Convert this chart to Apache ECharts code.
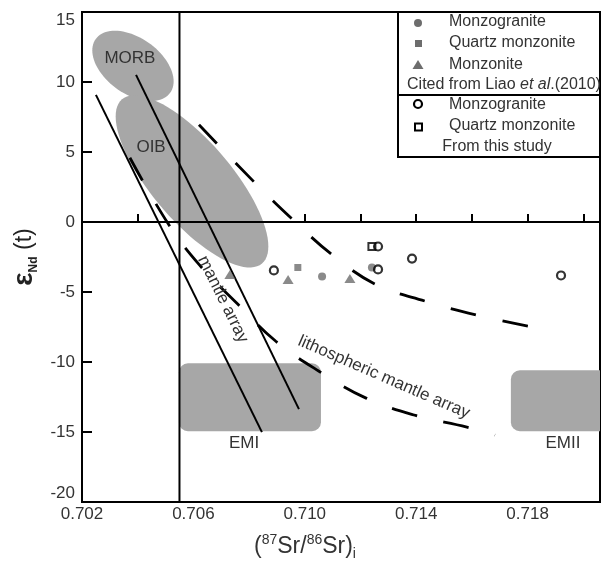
<!DOCTYPE html>
<html>
<head>
<meta charset="utf-8">
<script src="https://cdn.jsdelivr.net/npm/echarts@6/dist/echarts.min.js"></script>
<style>
  html, body { margin: 0; padding: 0; background: #fff; }
  #chart { width: 603px; height: 566px; }
</style>
</head>
<body>
<div id="chart"></div>
<script>
// samples, Liao et al. (2010)
const liaoMonzogranite = [[0.71062, -3.89], [0.71241, -3.25]];
const liaoQuartzMonzonite = [[0.70975, -3.25]];
const liaoMonzonite = [[0.70731, -3.75], [0.70940, -4.10], [0.71162, -4.03]];
// samples, this study
const studyMonzogranite = [[0.70889, -3.46], [0.71263, -3.39], [0.71263, -1.75], [0.71385, -2.61], [0.71920, -3.82]];
const studyQuartzMonzonite = [[0.71241, -1.75]];

// reference fields
const mantleArrayLeft = [[0.70250, 9.08], [0.70846, -15.01]];
const mantleArrayRight = [[0.70394, 10.51], [0.70979, -13.37]];
const upperDashed = [[0.70620, 6.95], [0.70817, 2.88], [0.70957, 0.17], [0.71097, -2.32],
  [0.71255, -4.46], [0.71435, -5.67], [0.71622, -6.67], [0.71805, -7.45]];
const lithosphericArray = [[0.70372, 4.59], [0.70509, -0.11], [0.70620, -3.03], [0.70760, -5.88],
  [0.70896, -8.52], [0.71051, -10.66], [0.71220, -12.58], [0.71395, -13.80], [0.71582, -14.65], [0.71683, -15.22]];
// ellipses: centre x, centre y, half major axis (dx, dy), half minor axis (dx, dy)
const morbField = [0.70383, 11.15, 0.001335, -1.924, -0.000592, -1.611];
const oibField = [0.70595, 2.90, 0.002513, -5.866, -0.001095, -1.846];
// boxes: x0, y0, x1, y1
const emiBox = [0.70548, -10.09, 0.71058, -14.94];
const emiiBox = [0.71740, -10.59, 0.72300, -14.94];

const fieldNames = ['MORB', 'OIB', 'mantle array', 'lithospheric mantle array', 'EMI', 'EMII'];
const fieldNamePos = [[0.70372, 11.72], [0.70448, 5.31], [0.70706, -5.53], [0.71284, -11.09], [0.70782, -15.79], [0.71927, -15.79]];
const fieldNameAngle = [0, 0, -63.8, -23.5, 0, 0];

// bulk earth / CHUR reference lines
const bulkEarthLine = [[0.7055, -20], [0.7055, 15]];
const churLine = [[0.702, 0], [0.7206, 0]];
const xLabels = [0.702, 0.706, 0.710, 0.714, 0.718];

const FONT = '"Liberation Sans", Arial, sans-serif';
const GREY = '#a7a7a7';
const DARK = '#6d6d6d';

const chart = echarts.init(document.getElementById('chart'));

const ellipseItem = (params, api) => {
  const pts = [];
  for (let i = 0; i < 90; i++) {
    const t = i / 90 * Math.PI * 2;
    pts.push(api.coord([
      api.value(0) + api.value(2) * Math.cos(t) + api.value(4) * Math.sin(t),
      api.value(1) + api.value(3) * Math.cos(t) + api.value(5) * Math.sin(t)
    ]));
  }
  return { type: 'polygon', shape: { points: pts }, style: { fill: GREY } };
};

const boxItem = (params, api) => {
  const a = api.coord([api.value(0), api.value(1)]);
  const b = api.coord([api.value(2), api.value(3)]);
  return {
    type: 'rect',
    shape: { x: a[0], y: a[1], width: b[0] - a[0], height: b[1] - a[1], r: 9 },
    style: { fill: GREY }
  };
};

const nameItem = (params, api) => {
  const p = api.coord([api.value(0), api.value(1)]);
  return {
    type: 'text', x: p[0], y: p[1],
    rotation: fieldNameAngle[params.dataIndex] * Math.PI / 180,
    style: {
      text: fieldNames[params.dataIndex], fill: '#333', fontSize: 17, fontFamily: FONT,
      align: 'center', verticalAlign: 'middle'
    }
  };
};

const solid = { color: '#000', width: 2 };
const dashed = { color: '#000', width: 2.8, type: [26, 27] };

chart.setOption({
  animation: false,
  grid: { left: 82, right: 3, top: 12, bottom: 63, show: true, borderColor: '#000', borderWidth: 2 },
  xAxis: {
    type: 'value', min: 0.702, max: 0.7206, interval: 0.002,
    axisLine: { lineStyle: { color: '#000', width: 2 } },
    axisTick: { inside: true, length: 8, lineStyle: { color: '#000', width: 2 } },
    axisLabel: {
      color: '#333', fontSize: 17, fontFamily: FONT, margin: 4,
      formatter: v => xLabels.some(l => Math.abs(l - v) < 1e-6) ? v.toFixed(3) : ''
    },
    splitLine: { show: false },
    name: '({p|87}Sr/{p|86}Sr){b|i}',
    nameLocation: 'middle', nameGap: 31,
    nameTextStyle: {
      color: '#333', fontSize: 23, fontFamily: FONT, lineHeight: 28, padding: [0, 72, 0, 0],
      rich: {
        p: { fontSize: 14, fontFamily: FONT, color: '#333', verticalAlign: 'top', lineHeight: 14 },
        b: { fontSize: 14, fontFamily: FONT, color: '#333', verticalAlign: 'bottom', lineHeight: 12 }
      }
    }
  },
  yAxis: {
    type: 'value', min: -20, max: 15, interval: 5,
    axisLine: { lineStyle: { color: '#000', width: 2 } },
    axisTick: { inside: true, length: 10, lineStyle: { color: '#000', width: 2 } },
    axisLabel: {
      color: '#333', fontSize: 17, fontFamily: FONT, margin: 7,
      verticalAlignMinLabel: 'bottom', verticalAlignMaxLabel: 'top'
    },
    splitLine: { show: false },
    name: '{e|ε}{s|Nd}{t| (t)}',
    nameLocation: 'middle', nameGap: 40,
    nameTextStyle: {
      rich: {
        e: { fontSize: 28, fontWeight: 'bold', fontFamily: FONT, color: '#222', lineHeight: 30 },
        s: { fontSize: 12, fontWeight: 'bold', fontFamily: FONT, color: '#222', verticalAlign: 'bottom', lineHeight: 16 },
        t: { fontSize: 23, fontFamily: FONT, color: '#222', lineHeight: 30 }
      }
    }
  },
  series: [
    { type: 'custom', z: 1, clip: true, renderItem: ellipseItem, data: [morbField, oibField], silent: true },
    { type: 'custom', z: 1, clip: true, renderItem: boxItem, data: [emiBox, emiiBox],
      encode: { x: [0, 2], y: [1, 3] }, silent: true },
    { type: 'line', z: 2, data: bulkEarthLine, symbol: 'none', lineStyle: solid, silent: true },
    { type: 'line', z: 2, data: churLine, symbol: 'none', lineStyle: solid, silent: true },
    { type: 'line', z: 2, data: mantleArrayLeft, symbol: 'none', lineStyle: solid },
    { type: 'line', z: 2, data: mantleArrayRight, symbol: 'none', lineStyle: solid },
    { type: 'line', z: 2, data: upperDashed, symbol: 'none', smooth: 0.4, lineStyle: dashed },
    { type: 'line', z: 2, data: lithosphericArray, symbol: 'none', smooth: 0.4, lineStyle: dashed },
    { type: 'custom', z: 4, renderItem: nameItem, data: fieldNamePos, silent: true },
    { type: 'scatter', z: 5, data: liaoMonzogranite, symbol: 'circle', symbolSize: 8, itemStyle: { color: DARK } },
    { type: 'scatter', z: 5, data: liaoQuartzMonzonite, symbol: 'rect', symbolSize: 7, itemStyle: { color: DARK } },
    { type: 'scatter', z: 5, data: liaoMonzonite, symbol: 'triangle', symbolSize: [11, 9], itemStyle: { color: DARK } },
    { type: 'scatter', z: 5, data: studyQuartzMonzonite, symbol: 'rect', symbolSize: 7,
      itemStyle: { color: '#fff', borderColor: '#000', borderWidth: 2 } },
    { type: 'scatter', z: 5, data: studyMonzogranite, symbol: 'circle', symbolSize: 8,
      itemStyle: { color: 'rgba(255,255,255,0)', borderColor: '#000', borderWidth: 2.2 } }
  ],
  graphic: [
    { type: 'rect', z: 10, shape: { x: 398, y: 12, width: 202, height: 145 }, style: { fill: '#fff', stroke: '#000', lineWidth: 2 } },
    { type: 'line', z: 11, shape: { x1: 398, y1: 95, x2: 600, y2: 95 }, style: { stroke: '#000', lineWidth: 2 } },
    { type: 'circle', z: 11, shape: { cx: 418, cy: 23, r: 4 }, style: { fill: DARK } },
    { type: 'rect', z: 11, shape: { x: 415, y: 40, width: 7, height: 7 }, style: { fill: DARK } },
    { type: 'polygon', z: 11, shape: { points: [[418, 60], [412.5, 69], [423.5, 69]] }, style: { fill: DARK } },
    { type: 'circle', z: 11, shape: { cx: 418, cy: 104, r: 4 }, style: { fill: '#fff', stroke: '#000', lineWidth: 2.2 } },
    { type: 'rect', z: 11, shape: { x: 415, y: 123.5, width: 7, height: 7 }, style: { fill: '#fff', stroke: '#000', lineWidth: 2 } },
    { type: 'text', z: 11, x: 449, y: 22, style: { text: 'Monzogranite', fontSize: 16, fontFamily: FONT, fill: '#333', verticalAlign: 'middle' } },
    { type: 'text', z: 11, x: 449, y: 43, style: { text: 'Quartz monzonite', fontSize: 16, fontFamily: FONT, fill: '#333', verticalAlign: 'middle' } },
    { type: 'text', z: 11, x: 449, y: 65, style: { text: 'Monzonite', fontSize: 16, fontFamily: FONT, fill: '#333', verticalAlign: 'middle' } },
    {
      type: 'text', z: 11, x: 504, y: 85,
      style: {
        text: 'Cited from Liao {i|et al}.(2010)', fontSize: 16, fontFamily: FONT, fill: '#333',
        align: 'center', verticalAlign: 'middle',
        rich: { i: { fontSize: 16, fontFamily: FONT, fontStyle: 'italic', fill: '#333' } }
      }
    },
    { type: 'text', z: 11, x: 449, y: 105, style: { text: 'Monzogranite', fontSize: 16, fontFamily: FONT, fill: '#333', verticalAlign: 'middle' } },
    { type: 'text', z: 11, x: 449, y: 126, style: { text: 'Quartz monzonite', fontSize: 16, fontFamily: FONT, fill: '#333', verticalAlign: 'middle' } },
    { type: 'text', z: 11, x: 497, y: 147, style: { text: 'From this study', fontSize: 16, fontFamily: FONT, fill: '#333', align: 'center', verticalAlign: 'middle' } }
  ]
});
</script>
</body>
</html>
